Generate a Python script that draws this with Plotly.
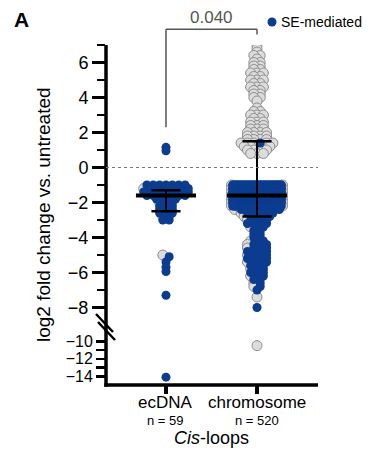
import numpy as np
import plotly.graph_objects as go

# ---------------- data ----------------
categories = ["ecDNA", "chromosome"]
n_labels = ["n = 59", "n = 520"]
axis_title = "log2 fold change vs. untreated"
group_title = "<i>Cis</i>-loops"
p_value = "0.040"
legend_label = "SE-mediated"
panel_label = "<b>A</b>"

# ecDNA loops: value level, number of loops at that level, how many are NOT SE-mediated (grey)
ec_values = [1.15, 0.95, -1.0, -1.2, -1.4, -1.6, -1.8, -2.0, -2.2, -2.4, -2.6, -2.8, -3.0,
             -5.0, -5.1, -5.4, -5.7, -5.95, -7.3, -14.1]
ec_counts = [1, 1, 7, 8, 8, 7, 4, 3, 3, 3, 3, 2, 2, 1, 1, 1, 1, 1, 1, 1]
ec_gray = [0, 0, 0, 1, 0, 0, 0, 1, 0, 0, 0, 1, 0, 1, 0, 0, 0, 0, 0, 0]

# chromosome loops
chr_values = [7.0, 6.8, 6.6, 6.4, 6.2, 6.0, 5.8, 5.6, 5.4, 5.2, 5.0, 4.8, 4.6, 4.4, 4.2, 4.0, 3.8,
              3.4, 3.2, 3.0, 2.8, 2.6, 2.4, 2.2, 2.0, 1.8, 1.6, 1.4, 1.2, 1.0, 0.8,
              -1.0, -1.2, -1.4, -1.6, -1.8, -2.0, -2.2, -2.4, -2.6, -2.8, -3.0, -3.2, -3.4, -3.6, -3.8,
              -4.0, -4.2, -4.4, -4.6, -4.8, -5.0, -5.2, -5.4, -5.6, -5.8, -6.0, -6.2, -6.4, -6.6, -6.8,
              -7.0, -7.4, -8.0, -10.5]
chr_counts = [1, 1, 1, 2, 1, 2, 2, 2, 3, 2, 3, 2, 3, 2, 2, 2, 1,
              1, 2, 3, 2, 3, 3, 3, 4, 4, 4, 6, 5, 4, 3,
              49, 53, 53, 53, 53, 50, 45, 8, 6, 5, 4, 4, 3, 2, 2,
              2, 3, 4, 4, 4, 4, 4, 4, 3, 3, 3, 3, 2, 2, 2,
              1, 1, 1, 1]
chr_gray = [1, 1, 1, 2, 1, 2, 2, 2, 3, 2, 3, 2, 3, 2, 2, 2, 1,
            1, 2, 3, 2, 3, 3, 3, 4, 4, 4, 5, 5, 4, 3,
            2, 2, 2, 2, 2, 2, 2, 1, 1, 1, 1, 0, 1, 0, 0,
            0, 1, 1, 1, 0, 1, 0, 1, 0, 1, 0, 1, 0, 1, 1,
            0, 1, 0, 1]

# median and error-bar ends: [median, upper, lower]
ec_stats = [-1.6, -1.3, -2.5]
chr_stats = [-1.6, 1.5, -2.8]

upper_ticks = [-8, -6, -4, -2, 0, 2, 4, 6]
upper_minor = [-7, -5, -3, -1, 1, 3, 5, 7]
lower_ticks = [-10, -12, -14]
lower_minor = [-11, -13]

# ---------------- layout constants ----------------
W, H = 383, 452
ML, MR, MT, MB = 106, 65, 45, 67
PW, PH = W - ML - MR, H - MT - MB
UP_RANGE = [-9, 7]
LO_RANGE = [-15, -9.5]
UP_DOM = [0.1765, 1.0]
LO_DOM = [0.0, 0.1415]
X_RANGE = [-0.659, 1.670]
BREAK = -9.25
FONT = "Liberation Sans, Arial, Helvetica, sans-serif"
GRAY_FILL, GRAY_LINE, BLUE = "#dcdcdc", "#8e8e8e", "#0b3c8f"


def px_x(px):
    return (px - ML) / PW


def px_y(py):
    return (H - MB - py) / PH


def xp(v):
    return (v - X_RANGE[0]) / (X_RANGE[1] - X_RANGE[0])


def yp(v):
    return UP_DOM[0] + (v - UP_RANGE[0]) / (UP_RANGE[1] - UP_RANGE[0]) * (UP_DOM[1] - UP_DOM[0])


def swarm(values, counts, grays, center, bin_w=0.2, step=0.035, hmax=0.28):
    pts = []
    for v, c, g in zip(values, counts, grays):
        pts += [(v, True)] * g + [(v, False)] * (c - g)
    bins = {}
    for v, isg in pts:
        b = int(np.floor(v / bin_w + 0.5))
        bins.setdefault(b, []).append((v, isg))
    out = {True: ([], []), False: ([], [])}
    for b, items in bins.items():
        k = len(items)
        h = min(hmax, step * (k - 1))
        offs = list(np.linspace(-h, h, k)) if k > 1 else [0.0]
        order = sorted(offs, key=lambda o: (abs(o), -o))
        ordered = [it for it in items if not it[1]] + [it for it in items if it[1]]
        for it, o in zip(ordered, order):
            out[it[1]][0].append(center + o)
            out[it[1]][1].append(it[0])
    return out


groups = [swarm(ec_values, ec_counts, ec_gray, 0), swarm(chr_values, chr_counts, chr_gray, 1)]

fig = go.Figure()

for isg in (True, False):
    for panel in ("y", "y2"):
        xs, ys = [], []
        for g in groups:
            for x, y in zip(*g[isg]):
                if (panel == "y" and y > BREAK) or (panel == "y2" and y <= BREAK):
                    xs.append(x)
                    ys.append(y)
        if isg:
            marker = dict(size=10, color=GRAY_FILL, line=dict(color=GRAY_LINE, width=1))
        else:
            marker = dict(size=9, color=BLUE, line=dict(width=0))
        fig.add_trace(go.Scatter(x=xs, y=ys, mode="markers", marker=marker,
                                 xaxis="x", yaxis=panel, showlegend=False, hoverinfo="skip"))

for c, (m, up, lo) in zip([0, 1], [ec_stats, chr_stats]):
    fig.add_trace(go.Scatter(x=[c, c], y=[lo, up], mode="lines", line=dict(color="black", width=2),
                             showlegend=False, hoverinfo="skip"))
    fig.add_trace(go.Scatter(x=[c - 0.16, c + 0.16, None, c - 0.16, c + 0.16],
                             y=[up, up, None, lo, lo], mode="lines",
                             line=dict(color="black", width=2.5), showlegend=False, hoverinfo="skip"))
    fig.add_trace(go.Scatter(x=[c - 0.33, c + 0.33], y=[m, m], mode="lines",
                             line=dict(color="black", width=4), showlegend=False, hoverinfo="skip"))

shapes = [
    dict(type="line", xref="paper", yref="paper", x0=0, x1=0, y0=-0.005, y1=1,
         line=dict(color="black", width=3.5)),
    dict(type="line", xref="paper", yref="paper", x0=-0.008, x1=1, y0=0, y1=0,
         line=dict(color="black", width=3.5)),
    dict(type="line", xref="paper", yref="paper", x0=px_x(96), x1=px_x(113), y0=px_y(314), y1=px_y(332),
         line=dict(color="black", width=2.5)),
    dict(type="line", xref="paper", yref="paper", x0=px_x(98), x1=px_x(115), y0=px_y(322), y1=px_y(340),
         line=dict(color="black", width=2.5)),
    dict(type="line", xref="paper", yref="y", x0=0, x1=1, y0=0, y1=0,
         line=dict(color="#777777", width=1, dash="dot")),
    dict(type="line", xref="paper", yref="paper", x0=xp(0), x1=xp(0), y0=yp(2.3), y1=yp(7.9),
         line=dict(color="#555555", width=1.5)),
    dict(type="line", xref="paper", yref="paper", x0=xp(0), x1=xp(1), y0=yp(7.9), y1=yp(7.9),
         line=dict(color="#555555", width=1.5)),
    dict(type="line", xref="paper", yref="paper", x0=xp(1), x1=xp(1), y0=yp(7.9), y1=yp(7.6),
         line=dict(color="#555555", width=1.5)),
    dict(type="circle", xref="paper", yref="paper", x0=px_x(267.5), x1=px_x(276.5),
         y0=px_y(26.5), y1=px_y(17.5), fillcolor=BLUE, line=dict(width=0)),
]

annotations = [
    dict(text=panel_label, x=px_x(21), y=px_y(19), xref="paper", yref="paper", showarrow=False,
         font=dict(size=21, color="black", family=FONT), xanchor="center", yanchor="middle"),
    dict(text=p_value, x=xp(0.5), y=yp(7.9), xref="paper", yref="paper", showarrow=False,
         font=dict(size=17, color="#555555", family=FONT), xanchor="center", yanchor="bottom"),
    dict(text=legend_label, x=px_x(279), y=px_y(22), xref="paper", yref="paper", showarrow=False,
         font=dict(size=14, color="black", family=FONT), xanchor="left", yanchor="middle"),
    dict(text=axis_title, x=px_x(43), y=0.5, xref="paper", yref="paper", showarrow=False, textangle=-90,
         font=dict(size=19, color="black", family=FONT), xanchor="center", yanchor="middle"),
    dict(text=group_title, x=xp(0.5), y=px_y(438.5), xref="paper", yref="paper", showarrow=False,
         font=dict(size=18, color="black", family=FONT), xanchor="center", yanchor="middle"),
]
for i, (cat, nl) in enumerate(zip(categories, n_labels)):
    annotations.append(dict(text=cat, x=xp(i), y=px_y(402), xref="paper", yref="paper", showarrow=False,
                            font=dict(size=17, color="black", family=FONT), xanchor="center",
                            yanchor="middle"))
    annotations.append(dict(text=nl, x=xp(i), y=px_y(420), xref="paper", yref="paper", showarrow=False,
                            font=dict(size=13, color="black", family=FONT), xanchor="center",
                            yanchor="middle"))

tick_common = dict(ticks="outside", tickcolor="black", showgrid=False, zeroline=False, showline=False,
                   anchor="x", tickmode="array")

fig.update_layout(
    width=W, height=H,
    margin=dict(l=ML, r=MR, t=MT, b=MB, pad=0),
    paper_bgcolor="white", plot_bgcolor="white",
    font=dict(family=FONT, color="black"),
    showlegend=False,
    xaxis=dict(domain=[0, 1], range=X_RANGE, anchor="y2", tickmode="array", tickvals=[0, 1],
               ticktext=["", ""], ticks="outside", ticklen=8, tickwidth=3.5, tickcolor="black",
               showgrid=False, zeroline=False, showline=False),
    yaxis=dict(domain=UP_DOM, range=UP_RANGE, tickvals=upper_ticks, ticklen=13, tickwidth=2.5,
               tickfont=dict(size=18, color="black", family=FONT),
               minor=dict(tickmode="array", tickvals=upper_minor, ticks="outside", ticklen=8,
                          tickwidth=2.5, tickcolor="black", showgrid=False),
               **tick_common),
    yaxis2=dict(domain=LO_DOM, range=LO_RANGE, tickvals=lower_ticks, ticklen=9, tickwidth=2.5,
                tickfont=dict(size=16, color="black", family=FONT),
                minor=dict(tickmode="array", tickvals=lower_minor, ticks="outside", ticklen=9,
                           tickwidth=2.5, tickcolor="black", showgrid=False),
                **tick_common),
    shapes=shapes,
    annotations=annotations,
)

fig.write_html("out.html", config={"displayModeBar": False, "staticPlot": True},
               post_script="document.body.style.margin='0';document.body.style.overflow='hidden';")
